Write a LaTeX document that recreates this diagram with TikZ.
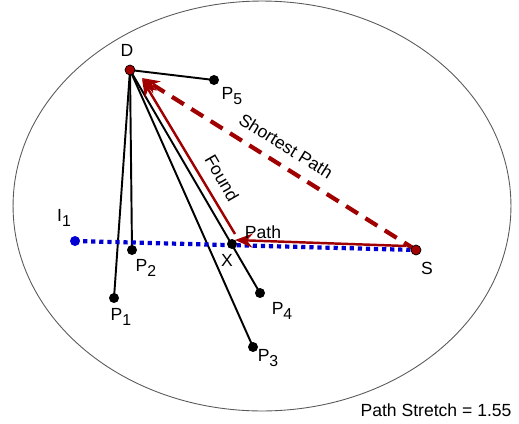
\documentclass[tikz,border=0pt]{standalone}
\usepackage{fontspec}
\setmainfont{Liberation Sans}
\usetikzlibrary{calc}
\usetikzlibrary{arrows.meta}
\tikzset{>={Stealth[length=10pt,width=8pt]}}
\definecolor{pathred}{RGB}{160,0,0}
\definecolor{linkblue}{RGB}{0,0,210}
\newcommand{\lowsub}[1]{\raisebox{-0.55ex}{\fontsize{9}{10}\selectfont #1}}

\begin{document}
\begin{tikzpicture}[x=0.02cm,y=-0.02cm,font=\fontsize{10}{11}\selectfont]
  \useasboundingbox (0,0) rectangle (519,423);
  % 坐标点定义
  \coordinate (D) at (130,70);
  \coordinate (P1) at (114,298);
  \coordinate (P2) at (132,250);
  \coordinate (P3) at (253,347);
  \coordinate (P4) at (260,293);
  \coordinate (P5) at (214,80);
  \coordinate (X) at (232,244);
  \coordinate (S) at (416,250);
  \coordinate (I1) at (75,241);
  \coordinate (O) at (262,206);

  % 区域
  \draw[gray!70!black,line width=0.5pt] (O) ellipse (4.98cm and 4.1cm);

  % 线段
  \draw[line width=1.1pt] (D) -- (P1);
  \draw[line width=1.1pt] (D) -- (P2);
  \draw[line width=1.1pt] (D) -- (P3);
  \draw[line width=1.1pt] (D) -- (P4);
  \draw[line width=1.1pt] (D) -- (P5);

  % 路径
  \draw[linkblue,line width=2.4pt,dash pattern=on 2.4pt off 2.2pt] (I1) -- (S);
  \draw[pathred,line width=1.4pt,->] ($(S)+(-10,-4)$) -- ($(X)+(3,-4)$);
  \draw[pathred,line width=1.4pt,->] ($(X)+(3,-10)$) -- ($(D)+(12,9)$);
  \draw[pathred,line width=2.4pt,dash pattern=on 8pt off 5pt,->] (S) -- ($(D)+(12,8)$);

  % 点标记
  \draw[fill=pathred] (D) circle (5);
  \draw[fill=pathred] (S) circle (5);
  \fill[linkblue] (I1) circle (5);
  \fill (P1) circle (5);
  \fill (P2) circle (5);
  \fill (P3) circle (5);
  \fill (P4) circle (5);
  \fill (P5) circle (5);
  \fill (X) circle (5);

  % 点标签
  \node (lD) at (127,50) {D};
  \node (lP1) at (121,317) {P\lowsub{1}};
  \node (lP2) at (146,268) {P\lowsub{2}};
  \node (lP3) at (268,358) {P\lowsub{3}};
  \node (lP4) at (282,311) {P\lowsub{4}};
  \node (lP5) at (232,96) {P\lowsub{5}};
  \node (lX) at (227,260) {X};
  \node (lS) at (427,268) {S};
  \node (lI1) at (64,218) {I\lowsub{1}};

  % 路径标签
  \node[rotate=-32] (lshort) at (286,146) {Shortest Path};
  \node[rotate=-60] (lfound) at (222,178) {Found};
  \node (lpath) at (263,232) {Path};
  \node (lstretch) at (436,410) {Path Stretch = 1.55};
\end{tikzpicture}
\end{document}
